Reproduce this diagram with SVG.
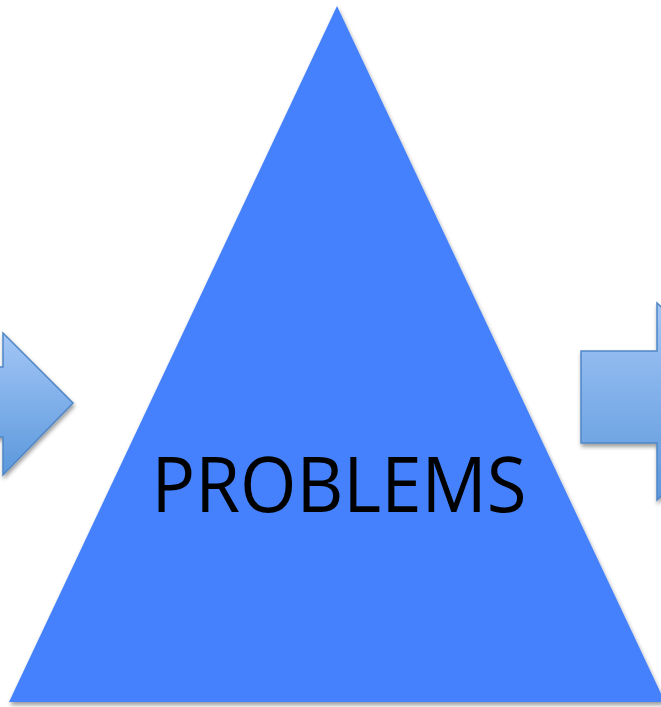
<svg xmlns="http://www.w3.org/2000/svg" width="661" height="707" viewBox="0 0 661 707">
<defs>
<linearGradient id="ag" x1="0" y1="0" x2="0" y2="1">
<stop offset="0" stop-color="#a3c6f6"/>
<stop offset="1" stop-color="#5b98dc"/>
</linearGradient>
<filter id="sh" x="-10%" y="-10%" width="130%" height="130%">
<feGaussianBlur in="SourceAlpha" stdDeviation="2"/>
<feOffset dx="1" dy="3"/>
<feComponentTransfer><feFuncA type="linear" slope="0.4"/></feComponentTransfer>
<feMerge><feMergeNode/><feMergeNode in="SourceGraphic"/></feMerge>
</filter>
<style>
.arrow{fill:url(#ag);stroke:#4f86c6;stroke-width:1.5;stroke-linejoin:miter}
.tri{fill:#4581fc}
.lbl{font-family:"Open Sans","Liberation Sans",sans-serif;font-size:76px;fill:#000}
</style>
</defs>
<rect width="661" height="707" fill="#fff"/>
<g id="connectors" filter="url(#sh)">
<path id="arrow-left" class="arrow" d="M-10,367 H3 V333 L73,403 L3,475 V437 H-10 Z"/>
<path id="arrow-right" class="arrow" d="M581,351 H657 V303 L760,401 L657,500 V443 H581 Z"/>
</g>
<g id="problems" filter="url(#sh)">
<polygon class="tri" points="337,6 665,702 9,702"/>
<text class="lbl" x="339" y="512" text-anchor="middle" textLength="375" lengthAdjust="spacingAndGlyphs">PROBLEMS</text>
</g>
</svg>
